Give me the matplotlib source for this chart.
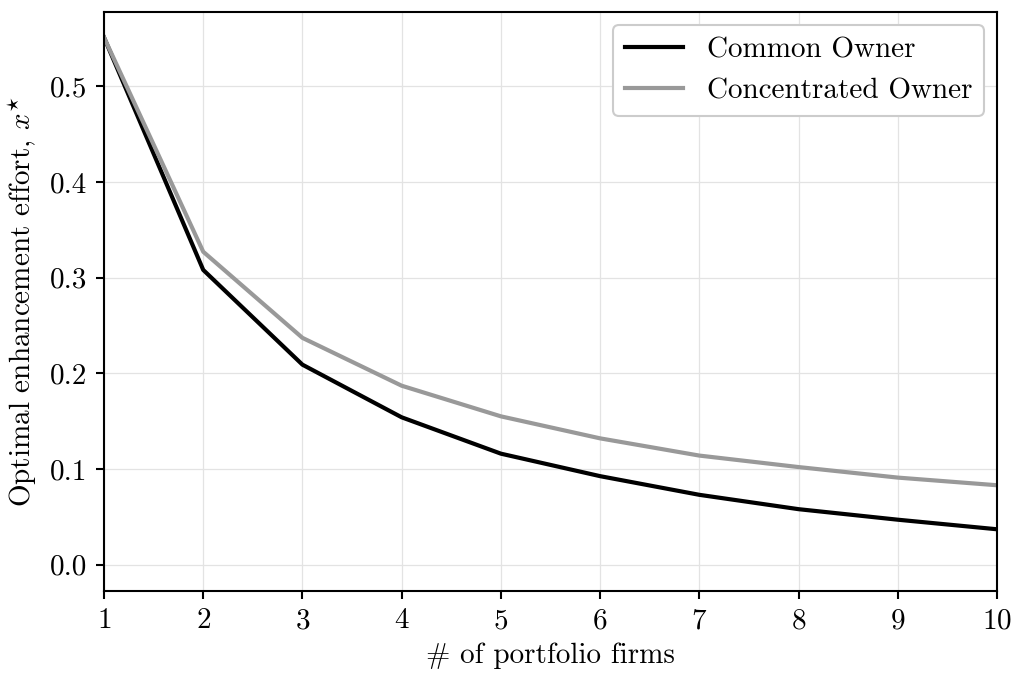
import matplotlib
matplotlib.use("Agg")
import matplotlib.pyplot as plt

plt.rcParams['font.family'] = 'serif'
plt.rcParams['font.serif'] = ['cmr10', 'DejaVu Serif']
plt.rcParams['mathtext.fontset'] = 'cm'
plt.rcParams['axes.formatter.use_mathtext'] = True
plt.rcParams['axes.unicode_minus'] = False

n_firms = [1, 2, 3, 4, 5, 6, 7, 8, 9, 10]
common_owner = [0.551, 0.308, 0.209, 0.154, 0.116, 0.0925, 0.073, 0.058, 0.047, 0.037]
concentrated_owner = [0.551, 0.327, 0.237, 0.187, 0.155, 0.132, 0.114, 0.102, 0.091, 0.083]

fig = plt.figure(figsize=(10.11, 6.73), dpi=100)
ax = fig.add_axes([104/1011, 1 - 591/673, (997-104)/1011, (591-12)/673])

ax.plot(n_firms, common_owner, color='black', lw=3.0, label='Common Owner')
ax.plot(n_firms, concentrated_owner, color='#999999', lw=3.0, label='Concentrated Owner')

ax.set_xlim(1, 10)
ax.set_ylim(-0.0275, 0.5775)
ax.set_xticks(n_firms)
ax.set_yticks([0.0, 0.1, 0.2, 0.3, 0.4, 0.5])
ax.set_yticklabels(['0.0', '0.1', '0.2', '0.3', '0.4', '0.5'])
ax.grid(True, color='#e3e3e3', lw=0.9)
ax.set_axisbelow(True)
for s in ax.spines.values():
    s.set_linewidth(1.5)
ax.tick_params(labelsize=21, width=1.5, length=6, pad=6)
ax.set_xlabel('# of portfolio firms', fontsize=21, labelpad=6)
ax.set_ylabel(r'Optimal enhancement effort, $x^{\star}$', fontsize=21, labelpad=8)
leg = ax.legend(loc='upper right', fontsize=21, framealpha=1, edgecolor='#cccccc',
                fancybox=True, handlelength=2.0, borderaxespad=0.45)
leg.get_frame().set_linewidth(1.5)

fig.savefig('out.png', dpi=100)
